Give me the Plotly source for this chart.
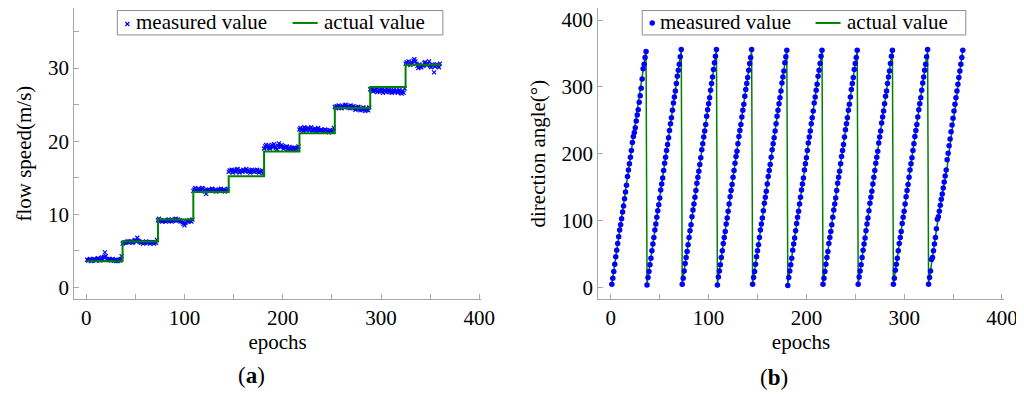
import plotly.graph_objects as go

# ---- data ----
epochs = list(range(1, 361))

# flow speed, measured (one value per epoch, 10 steps of 36 epochs)
flow_measured = [
    # step 1
    3.8, 3.7, 3.8, 3.9, 3.6, 3.7, 3.8, 3.9, 3.8, 3.7, 3.9, 4.0, 3.8, 3.7, 3.9, 4.1, 3.8, 4.2,
    4.8, 4.3, 3.9, 3.8, 3.9, 3.8, 3.7, 3.8, 3.9, 3.7, 3.8, 3.6, 3.7, 3.6, 3.8, 3.7, 3.9, 4.3,
    # step 2
    6.0, 6.1, 6.2, 6.1, 6.2, 6.3, 6.2, 6.3, 6.2, 6.3, 6.1, 6.2, 6.4, 6.5, 6.3, 6.8, 6.4, 6.3,
    6.2, 6.1, 6.2, 6.0, 6.1, 6.2, 6.3, 6.2, 6.1, 6.2, 6.0, 6.2, 6.1, 6.2, 6.0, 6.2, 6.1, 6.5,
    # step 3
    9.2, 9.4, 9.1, 9.2, 9.0, 9.1, 9.2, 9.1, 9.0, 9.1, 9.2, 9.3, 9.2, 9.1, 9.0, 9.1, 9.2, 9.3,
    9.4, 9.2, 9.3, 9.1, 9.2, 9.0, 9.1, 8.9, 8.7, 8.5, 8.8, 9.0, 9.1, 9.0, 9.2, 9.1, 9.0, 9.3,
    # step 4
    13.2, 13.4, 13.6, 13.3, 13.2, 13.5, 13.4, 13.3, 13.2, 13.6, 13.5, 13.3, 13.1, 12.8, 13.2, 13.3, 13.4, 13.2,
    13.3, 13.5, 13.4, 13.2, 13.3, 13.1, 13.2, 13.3, 13.4, 13.2, 13.5, 13.3, 13.2, 13.4, 13.1, 13.3, 13.2, 13.5,
    # step 5
    15.8, 16.0, 15.9, 16.1, 15.7, 15.9, 16.0, 15.8, 16.1, 16.2, 15.9, 15.7, 16.0, 15.9, 15.8, 16.1, 16.0, 15.9,
    16.2, 16.0, 15.8, 15.9, 15.7, 16.0, 16.1, 15.9, 15.8, 16.0, 15.9, 16.1, 15.8, 15.7, 15.9, 15.8, 16.0, 15.6,
    # step 6
    19.0, 19.3, 19.5, 19.2, 19.4, 19.1, 19.0, 19.3, 19.5, 19.2, 19.6, 19.3, 19.1, 18.9, 19.4, 19.7, 19.3, 19.2,
    19.5, 19.3, 19.0, 19.2, 19.1, 19.3, 18.9, 19.0, 19.2, 18.9, 19.1, 19.0, 18.8, 19.1, 19.0, 18.9, 19.1, 19.3,
    # step 7
    21.6, 21.8, 21.5, 21.7, 21.4, 21.9, 21.6, 21.5, 21.7, 21.8, 21.5, 21.6, 21.9, 21.4, 21.6, 21.5, 21.7, 21.3,
    21.6, 21.8, 21.5, 21.4, 21.6, 21.5, 21.3, 21.4, 21.6, 21.5, 21.3, 21.4, 21.2, 21.5, 21.3, 21.4, 21.5, 21.8,
    # step 8
    24.7, 24.5, 24.8, 24.6, 24.9, 24.7, 24.6, 24.5, 24.8, 24.7, 24.9, 25.0, 24.7, 24.6, 24.8, 24.5, 24.9, 24.7,
    24.6, 24.8, 24.5, 24.3, 24.6, 24.5, 24.7, 24.4, 24.2, 24.5, 24.3, 24.6, 24.4, 24.1, 24.5, 24.3, 24.2, 24.6,
    # step 9
    27.1, 26.9, 27.2, 26.8, 27.0, 26.9, 27.1, 26.7, 26.8, 27.0, 26.9, 27.1, 26.8, 26.6, 26.9, 27.0, 26.7, 26.9,
    26.8, 27.0, 26.7, 26.9, 26.6, 26.8, 27.0, 26.7, 26.9, 26.8, 26.6, 26.8, 27.0, 26.7, 26.5, 26.8, 26.6, 27.2,
    # step 10
    30.6, 30.8, 30.5, 30.9, 30.7, 30.4, 30.8, 30.6, 31.0, 31.2, 30.9, 30.6, 30.3, 30.0, 30.5, 30.2, 30.1, 30.4,
    30.3, 30.7, 30.8, 30.5, 30.4, 30.6, 30.9, 30.3, 30.1, 30.5, 30.4, 29.4, 30.2, 30.4, 30.5, 30.3, 30.1, 30.6,
]

# flow speed, actual (step starts and levels)
flow_step_epochs = [1, 37, 73, 109, 145, 181, 217, 253, 289, 325, 360]
flow_step_levels = [3.6, 6.3, 9.3, 13.05, 15.2, 18.6, 21.1, 24.55, 27.4, 30.45, 30.45]

# direction angle, measured (one value per epoch, 10 cycles)
angle_measured = [
    5, 14, 24, 35, 46, 56, 66, 76, 86, 94, 103, 113, 122, 133, 143, 153, 166, 176,
    185, 195, 205, 217, 226, 232, 239, 249, 258, 266, 277, 287, 298, 312, 327, 334, 344, 353,
    4, 15, 24, 34, 44, 55, 65, 75, 86, 95, 105, 115, 124, 134, 146, 155, 164, 175,
    186, 195, 205, 214, 224, 235, 245, 254, 265, 276, 285, 294, 305, 316, 325, 334, 345, 356,
    5, 14, 25, 36, 45, 54, 64, 75, 85, 94, 106, 116, 125, 135, 145, 156, 165, 174,
    184, 194, 206, 215, 225, 234, 244, 256, 266, 275, 284, 295, 305, 315, 326, 336, 346, 356,
    4, 16, 25, 34, 45, 55, 66, 75, 84, 95, 104, 114, 125, 136, 145, 154, 165, 175,
    186, 196, 204, 215, 226, 235, 244, 255, 265, 274, 286, 296, 305, 314, 325, 335, 344, 356,
    5, 15, 24, 35, 46, 55, 64, 75, 86, 95, 104, 115, 126, 135, 144, 155, 166, 175,
    184, 195, 206, 215, 224, 234, 245, 256, 265, 275, 284, 294, 306, 315, 324, 336, 345, 355,
    3, 15, 25, 34, 44, 56, 65, 74, 85, 96, 105, 114, 125, 135, 146, 155, 164, 176,
    185, 194, 205, 216, 225, 234, 245, 254, 264, 276, 285, 295, 304, 316, 325, 335, 346, 355,
    5, 14, 24, 35, 45, 54, 66, 75, 84, 94, 105, 116, 125, 134, 145, 156, 165, 174,
    185, 196, 205, 214, 225, 236, 245, 254, 265, 274, 285, 296, 305, 314, 326, 335, 344, 355,
    5, 16, 25, 34, 45, 56, 65, 74, 85, 95, 104, 115, 126, 135, 144, 155, 165, 175,
    186, 195, 204, 216, 225, 234, 246, 255, 264, 275, 286, 294, 305, 315, 324, 335, 346, 355,
    5, 14, 26, 35, 44, 55, 66, 75, 84, 96, 105, 114, 125, 136, 145, 154, 165, 176,
    185, 194, 205, 215, 226, 235, 244, 255, 266, 275, 284, 295, 306, 315, 325, 334, 345, 356,
    5, 15, 25, 42, 45, 55, 65, 75, 88, 102, 106, 114, 123, 132, 140, 149, 158, 167,
    176, 191, 201, 212, 222, 233, 243, 253, 264, 274, 284, 294, 304, 314, 324, 334, 344, 355,
]

# direction angle, actual (line breakpoints)
angle_actual_epochs = [1, 36, 37, 72, 73, 108, 109, 144, 145, 180, 181, 216,
                       217, 252, 253, 288, 289, 324, 325, 335, 344, 360]
angle_actual_values = [5, 355, 5, 355, 5, 355, 5, 355, 5, 355, 5, 355,
                       5, 355, 5, 355, 5, 355, 5, 106, 180, 355]

legend_labels = ["measured value", "actual value"]

FONT = "Liberation Serif, Times New Roman, Times, DejaVu Serif, serif"
BLUE = "#0000ff"
GREEN = "#008000"
AXIS = "#a6a6a6"
FS = 21

# page keeps an 8px body margin; the shot comes out slightly squeezed sideways
W, H = 1024, 385
OFF = 8
SX = 1024 / 1040


def px_x(v):
    return (v / SX - OFF) / W


def px_y(v):
    return 1 - (v - OFF) / H


fig = go.Figure()

# panel (a): green steps drawn over the crosses
fig.add_trace(go.Scatter(
    x=epochs, y=flow_measured, mode="markers", name=legend_labels[0],
    marker=dict(symbol="x-thin", size=4, color=BLUE, line=dict(width=1.2, color=BLUE)),
    showlegend=False, xaxis="x", yaxis="y",
))
fig.add_trace(go.Scatter(
    x=flow_step_epochs, y=flow_step_levels, mode="lines", name=legend_labels[1],
    line=dict(color=GREEN, width=2, shape="hv"), showlegend=False,
    xaxis="x", yaxis="y",
))

# panel (b): line under the dots
fig.add_trace(go.Scatter(
    x=angle_actual_epochs, y=angle_actual_values, mode="lines", name=legend_labels[1],
    line=dict(color=GREEN, width=1.5), showlegend=False,
    xaxis="x2", yaxis="y2",
))
fig.add_trace(go.Scatter(
    x=epochs, y=angle_measured, mode="markers", name=legend_labels[0],
    marker=dict(symbol="circle", size=5.5, color=BLUE), showlegend=False,
    xaxis="x2", yaxis="y2",
))


def axis_style(**kw):
    d = dict(
        showline=True, linecolor=AXIS, linewidth=1,
        ticks="inside", ticklen=5, tickwidth=1, tickcolor=AXIS,
        showgrid=False, zeroline=False,
        tickfont=dict(family=FONT, size=FS, color="black"),
        title_font=dict(family=FONT, size=FS, color="black"),
    )
    d.update(kw)
    return d


minor50 = dict(dtick=50, tick0=0, ticks="inside", ticklen=5, tickcolor=AXIS)
y_dom = [px_y(300), px_y(8)]


# hand-made legend boxes (plotly's own legend is too tall for this font)
def legend_box(left, right, sym_x, line_x0, text1_x, text2_x, symbol):
    cy = px_y(23)
    shapes = [
        dict(type="rect", xref="paper", yref="paper",
             x0=px_x(left), x1=px_x(right), y0=px_y(35), y1=px_y(10.5),
             line=dict(color="#8c8c8c", width=1), fillcolor="white", layer="above"),
        dict(type="line", xref="paper", yref="paper",
             x0=px_x(line_x0), x1=px_x(line_x0 + 25), y0=cy, y1=cy,
             line=dict(color=GREEN, width=2), layer="above"),
    ]
    if symbol == "x":
        a, b = px_x(sym_x - 2), px_x(sym_x + 2)
        c, d = px_y(22), px_y(26)
        shapes.append(dict(type="path", xref="paper", yref="paper",
                           path=f"M {a},{c} L {b},{d} M {a},{d} L {b},{c}",
                           line=dict(color=BLUE, width=1.2), layer="above"))
    else:
        shapes.append(dict(type="circle", xref="paper", yref="paper",
                           x0=px_x(sym_x - 2.7), x1=px_x(sym_x + 2.7),
                           y0=px_y(25.7), y1=px_y(20.3),
                           line=dict(color=BLUE, width=0), fillcolor=BLUE, layer="above"))
    notes = [
        dict(text=legend_labels[0], x=px_x(text1_x), y=px_y(22), xref="paper", yref="paper",
             xanchor="left", yanchor="middle", showarrow=False,
             font=dict(family=FONT, size=FS, color="black")),
        dict(text=legend_labels[1], x=px_x(text2_x), y=px_y(22), xref="paper", yref="paper",
             xanchor="left", yanchor="middle", showarrow=False,
             font=dict(family=FONT, size=FS, color="black")),
    ]
    return shapes, notes


sh_a, an_a = legend_box(117, 442, 127, 292, 134, 321, "x")
sh_b, an_b = legend_box(641, 964, 651, 814, 657, 843, "o")

fig.update_layout(
    width=W, height=H,
    margin=dict(l=0, r=0, t=0, b=0),
    paper_bgcolor="white", plot_bgcolor="white",
    font=dict(family=FONT, size=FS, color="black"),
    showlegend=False,
    xaxis=axis_style(domain=[px_x(74), px_x(480)], range=[-12.2, 401.7],
                     tickvals=[0, 100, 200, 300, 400], minor=minor50,
                     title=dict(text="epochs", standoff=0), anchor="y"),
    yaxis=axis_style(domain=y_dom, range=[-1.6, 38.2], tickvals=[0, 10, 20, 30],
                     minor=dict(dtick=5, tick0=0, ticks="inside", ticklen=5, tickcolor=AXIS),
                     title=dict(text="flow speed(m/s)", standoff=10), anchor="x"),
    xaxis2=axis_style(domain=[px_x(597), px_x(1002)], range=[-13, 402],
                      tickvals=[0, 100, 200, 300, 400], minor=minor50,
                      title=dict(text="epochs", standoff=0), anchor="y2"),
    yaxis2=axis_style(domain=y_dom, range=[-17.4, 418], tickvals=[0, 100, 200, 300, 400],
                      title=dict(text="direction angle(°)", standoff=10), anchor="x2"),
    shapes=sh_a + sh_b,
    annotations=an_a + an_b + [
        dict(text="(<b>a</b>)", x=px_x(251), y=px_y(376), xref="paper", yref="paper",
             xanchor="center", yanchor="middle",
             showarrow=False, font=dict(family=FONT, size=23, color="black")),
        dict(text="(<b>b</b>)", x=px_x(773), y=px_y(378), xref="paper", yref="paper",
             xanchor="center", yanchor="middle",
             showarrow=False, font=dict(family=FONT, size=23, color="black")),
    ],
)

fig.write_html("out.html")
